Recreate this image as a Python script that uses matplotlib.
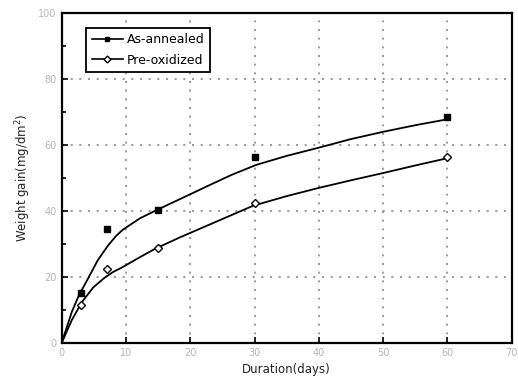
import numpy as np
import matplotlib
matplotlib.use('Agg')
import matplotlib.pyplot as plt
from matplotlib.lines import Line2D

# measured points
days_pts = [3, 7, 15, 30, 60]
annealed_pts = [15, 34.5, 40.3, 56.5, 68.5]
preox_pts = [11.5, 22.3, 28.7, 42.5, 56.3]

# fitted curves
days_a = [0, 1.6, 2.7, 4.1, 5.6, 7.2, 8.5, 9.5, 12.2, 14.8, 18.4, 21, 23.5, 26.5, 30.3, 35, 40, 45, 50, 55, 60]
annealed_curve = [0, 9.5, 14.5, 19.5, 25, 29.5, 32.5, 34.3, 37.8, 40.3, 43.6, 46, 48.3, 51, 54, 56.7, 59.2, 61.8, 64, 66, 67.8]
days_p = [0, 1.6, 3.2, 4.9, 6.7, 8, 9.5, 12, 14.5, 18.4, 23.5, 29.8, 35, 40, 45, 50, 55, 60]
preox_curve = [0, 7, 12.5, 16.8, 19.8, 21.5, 23, 25.8, 28.5, 32, 36.3, 41.6, 44.5, 47, 49.3, 51.5, 53.8, 56]

fig = plt.figure(figsize=(5.18, 3.84), dpi=100)
ax = fig.add_axes([0.119, 0.107, 0.869, 0.859])

ax.plot(days_a, annealed_curve, color='black', lw=1.3)
ax.plot(days_p, preox_curve, color='black', lw=1.3)
ax.plot(days_pts, annealed_pts, 's', color='black', ms=4, ls='none')
ax.plot(days_pts, preox_pts, 'D', mfc='white', mec='black', ms=4, ls='none')

ax.set_xlim(0, 70)
ax.set_ylim(0, 100)
ax.set_xticks(np.arange(0, 71, 10))
ax.set_yticks(np.arange(0, 101, 20))
ax.set_yticks(np.arange(10, 100, 20), minor=True)
ax.tick_params(direction='in', length=4, width=1.2, colors='black',
               labelcolor='#b5b5b5', labelsize=7)
ax.tick_params(which='minor', direction='in', length=3, width=1.2)
ax.grid(True, which='major', ls=(0, (1.2, 4)), color='#8a8a8a', lw=1.2)
for s in ax.spines.values():
    s.set_linewidth(1.6)

ax.set_xlabel('Duration(days)', fontsize=8.5, color='#222222')
ax.set_ylabel('Weight gain(mg/dm$^2$)', fontsize=8.5, color='#222222')

handles = [Line2D([], [], color='black', lw=1.2, marker='s', ms=3.5),
           Line2D([], [], color='black', lw=1.2, marker='D', mfc='white', ms=3.5)]
leg = ax.legend(handles, ['As-annealed', 'Pre-oxidized'], loc='upper left',
                bbox_to_anchor=(0.04, 0.975), fontsize=9, fancybox=False,
                framealpha=1, edgecolor='black', handlelength=2.5,
                handletextpad=0.3, borderpad=0.45, labelspacing=0.6)
leg.get_frame().set_linewidth(1.3)

fig.savefig('out.png', dpi=100)
